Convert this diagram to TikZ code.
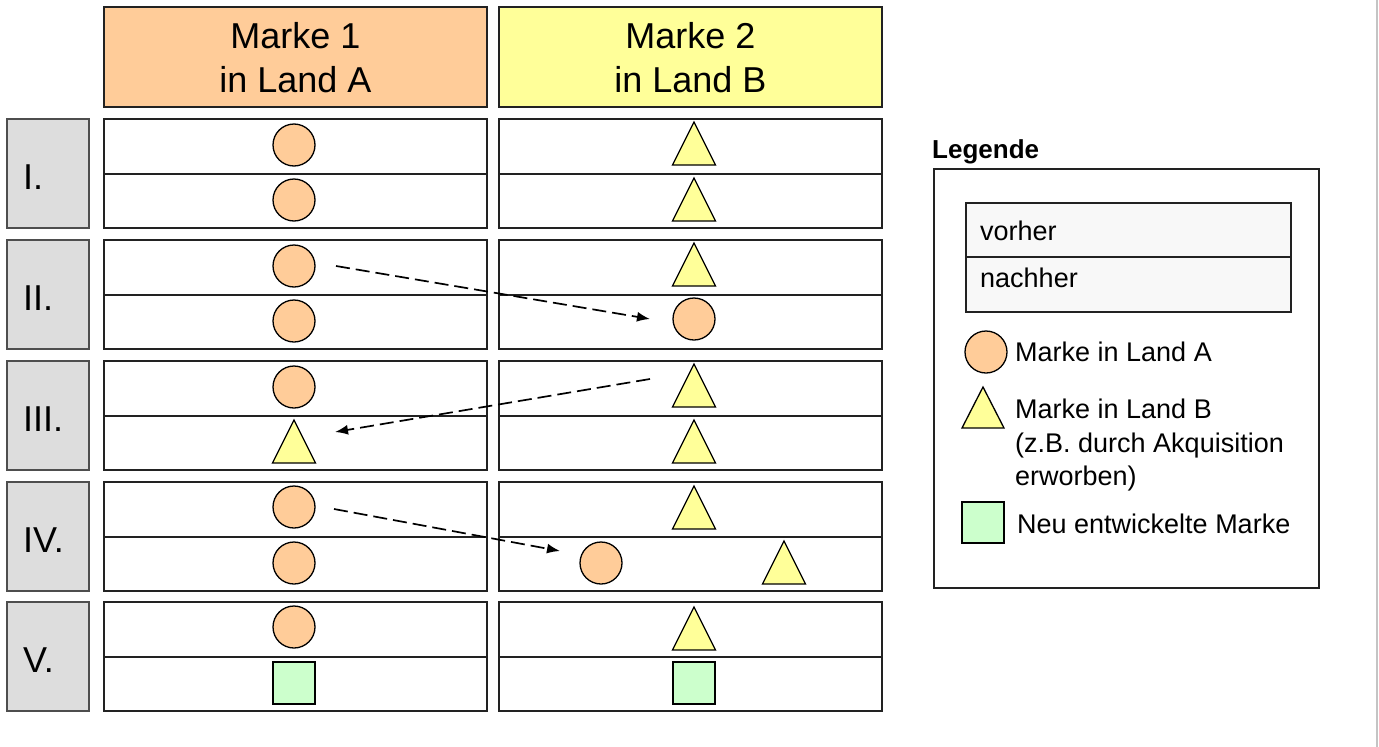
\documentclass[tikz,border=0pt]{standalone}
\usepackage{fontspec}
\setmainfont{Liberation Sans}
\usetikzlibrary{shapes.geometric,arrows.meta}
\definecolor{orangeA}{HTML}{FFCC99}
\definecolor{yellowB}{HTML}{FFFF99}
\definecolor{greenN}{HTML}{CCFFCC}
\definecolor{labelgray}{HTML}{DDDDDD}
\definecolor{legendgray}{HTML}{F8F8F8}
\definecolor{framegray}{HTML}{C4C4C4}
\definecolor{edge}{HTML}{222222}
\tikzset{
  box/.style={draw=edge, line width=1.3pt, rectangle, inner sep=0pt, outer sep=0pt, anchor=north west},
  cellbox/.style={box, fill=white, minimum width=383pt, minimum height=55pt},
  cellboxlow/.style={box, fill=white, minimum width=383pt, minimum height=54pt},
  headbox/.style={box, minimum width=383pt, minimum height=100pt},
  rowlabel/.style={box, fill=labelgray, draw=edge!80, minimum width=82pt, minimum height=109pt},
  labeltext/.style={anchor=base west, inner sep=0pt, font=\fontsize{36}{43}\selectfont},
  circA/.style={circle, draw=black, line width=1.3pt, fill=orangeA, minimum size=42pt, inner sep=0pt, outer sep=0pt},
  triB/.style={isosceles triangle, shape border rotate=90, isosceles triangle stretches, draw=black, line width=1.3pt, fill=yellowB, minimum width=43pt, minimum height=43pt, inner sep=0pt, outer sep=0pt, anchor=apex},
  sqN/.style={rectangle, draw=black, line width=1.3pt, fill=greenN, minimum width=42pt, minimum height=42pt, inner sep=0pt, outer sep=0pt},
  move/.style={dash pattern=on 14pt off 6pt, line width=1.7pt, -{Latex[length=13pt,width=10pt]}},
  legtext/.style={anchor=base west, inner sep=0pt, font=\fontsize{27}{33.5}\selectfont},
}
\begin{document}
\begin{tikzpicture}[x=1pt,y=-1pt]
\useasboundingbox (0,0) rectangle (1379,747);
\fill[white] (0,0) rectangle (1379,747);
\draw[framegray, line width=2.5pt] (1377,0) -- (1377,747);

% headers
\node[headbox, fill=orangeA] (h1) at (104,7) {};
\node[headbox, fill=yellowB] (h2) at (499,7) {};
\node[align=center, font=\fontsize{36}{44}\selectfont, inner sep=0pt] (h1t) at (295.5,58) {Marke 1\\in Land A};
\node[align=center, font=\fontsize{36}{44}\selectfont, inner sep=0pt] (h2t) at (690.5,58) {Marke 2\\in Land B};

% rows
\foreach \r/\T/\lab in {1/119/I., 2/240/II., 3/361/III., 4/482/IV., 5/602/V.}{
  \node[rowlabel] (lab\r) at (7,\T) {};
  \node[labeltext] (labt\r) at (23,\T+70) {\lab};
  \node[cellbox] (a\r u) at (104,\T) {};
  \node[cellboxlow] (a\r l) at (104,\T+55) {};
  \node[cellbox] (b\r u) at (499,\T) {};
  \node[cellboxlow] (b\r l) at (499,\T+55) {};
}

% Row I
\node[circA] (c1au) at (294,145) {};
\node[circA] (c1al) at (294,200) {};
\node[triB] (t1bu) at (694,122) {};
\node[triB] (t1bl) at (694,178) {};
% Row II
\node[circA] (c2au) at (294,266) {};
\node[circA] (c2al) at (294,321) {};
\node[triB] (t2bu) at (694,243) {};
\node[circA] (c2bl) at (694,319) {};
% Row III
\node[circA] (c3au) at (294,387) {};
\node[triB] (t3al) at (294,420) {};
\node[triB] (t3bu) at (694,364) {};
\node[triB] (t3bl) at (694,420) {};
% Row IV
\node[circA] (c4au) at (294,507) {};
\node[circA] (c4al) at (294,563) {};
\node[triB] (t4bu) at (694,486) {};
\node[circA] (c4bl) at (601,563) {};
\node[triB] (t4bl) at (784,541) {};
% Row V
\node[circA] (c5au) at (294,627) {};
\node[sqN] (s5al) at (294,683) {};
\node[triB] (t5bu) at (694,607) {};
\node[sqN] (s5bl) at (694,683) {};

% arrows
\coordinate (m2s) at (336,266);
\coordinate (m2e) at (650,319);
\coordinate (m3s) at (650,379);
\coordinate (m3e) at (335,432);
\coordinate (m4s) at (334,509);
\coordinate (m4e) at (560,551);
\draw[move] (m2s) -- (m2e);
\draw[move] (m3s) -- (m3e);
\draw[move] (m4s) -- (m4e);

% legend
\node[anchor=base west, inner sep=0pt, font=\fontsize{26}{30}\selectfont\bfseries] (legt) at (932,158) {Legende};
\node[box, fill=white, minimum width=385pt, minimum height=419pt] (leg) at (934,169) {};
\node[box, fill=legendgray, minimum width=325pt, minimum height=54pt] (legu) at (966,203) {};
\node[box, fill=legendgray, minimum width=325pt, minimum height=55pt] (legl) at (966,257) {};
\node[legtext] (lvor) at (980,240) {vorher};
\node[legtext] (lnach) at (980,287) {nachher};
\node[circA] (lc) at (986,352) {};
\node[legtext] (lct) at (1015,361) {Marke in Land A};
\node[triB, minimum width=42pt, minimum height=41pt] (ltri) at (983,387) {};
\node[legtext, align=left, anchor=north west] (ltt) at (1015,399) {Marke in Land B\\(z.B. durch Akquisition\\erworben)};
\node[sqN, minimum height=41pt] (lsq) at (983,522.5) {};
\node[legtext] (lsqt) at (1017,533) {Neu entwickelte Marke};
\end{tikzpicture}
\end{document}
